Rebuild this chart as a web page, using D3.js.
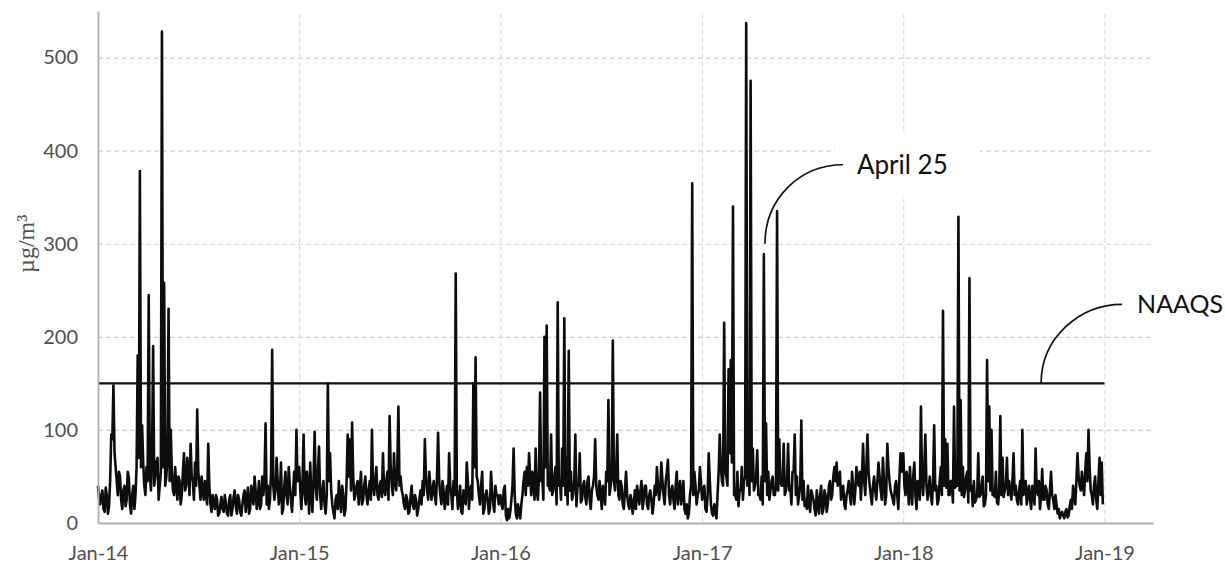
<!DOCTYPE html>
<html>
<head>
<meta charset="utf-8">
<script src="https://cdn.jsdelivr.net/npm/d3@7"></script>
<style>
  html, body { margin: 0; padding: 0; background: #fff; }
  svg { display: block; }
</style>
</head>
<body>
<svg id="chart" width="1225" height="564"></svg>
<script>
// ---------------- DATA (µg/m³) ----------------
// Each year: readings every 4 days from Jan 1 (pmYYYY) and the readings in between (pmYYYYmid, 2 days later).
const stepDays = 4;
const years = [2014, 2015, 2016, 2017, 2018];

const pm2014 = [40,20,35,12,30,18,95,148,60,30,50,15,40,25,48,10,40,30,180,378,
  105,40,60,245,35,190,50,70,40,528,258,50,230,100,35,60,25,45,30,75,
  40,55,85,45,65,122,40,50,25,30,85,20,30,15,25,10,28,12,22,8,
  30,15,35,10,25,8,30,12,38,15,30,50,15,45,20,30,107,40,25,186,
  25,70,20,65,15,55,20,40,12,55,100];
const pm2014mid = [25,30,15,38,10,45,90,75,45,55,25,35,18,55,20,30,15,60,70,60,
  65,30,45,55,70,40,65,25,55,60,40,70,45,55,30,40,50,20,55,35,
  70,30,50,25,40,55,25,35,45,20,40,12,22,30,8,20,15,30,10,25,
  8,28,18,30,12,20,35,25,10,40,20,35,25,15,50,45,20,15,55,40,
  35,45,30,10,40,30,60,25,35,30,45];

const pm2015 = [60,15,95,20,40,65,12,98,25,82,15,45,10,150,75,20,5,30,45,12,
  30,15,95,90,108,25,40,20,55,25,50,20,45,100,30,60,25,45,75,30,
  55,115,40,75,35,125,50,30,15,25,12,40,15,25,15,35,45,90,35,55,
  25,45,20,97,30,45,15,40,75,30,45,268,15,40,10,30,65,15,40,150,
  178,45,20,55,15,35,10,55,20,40,30];
const pm2015mid = [35,45,30,55,10,30,45,40,55,30,35,20,30,45,35,12,25,15,25,40,
  8,45,50,35,50,30,45,35,20,40,30,35,25,40,45,30,40,28,35,45,
  25,60,30,45,60,40,35,20,30,10,28,20,30,8,25,20,30,50,25,40,
  35,30,50,45,20,35,25,20,40,15,30,35,25,12,35,20,45,35,25,60,
  50,30,40,10,30,25,15,35,12,30,20];

const pm2016 = [30,15,40,3,5,25,80,10,20,5,30,55,60,75,30,45,80,25,140,50,
  200,212,40,95,35,60,237,45,80,220,70,185,55,30,95,40,75,25,45,20,
  50,15,40,90,30,45,15,35,55,132,40,196,35,95,25,40,15,55,20,30,
  10,35,40,20,45,25,40,15,35,10,40,60,25,65,30,45,68,20,40,15,
  55,35,20,45,10,5,30,365,55,20,35];
const pm2016mid = [20,35,8,15,12,40,30,5,12,20,45,30,40,50,55,25,35,50,45,25,
  60,40,35,30,50,20,40,25,40,30,20,35,25,45,18,40,22,40,28,45,
  25,35,50,40,25,30,40,20,45,30,50,45,55,30,45,20,35,30,15,25,
  20,15,30,35,15,40,20,30,25,20,30,40,35,45,20,55,30,35,25,40,
  20,45,30,15,20,10,40,30,40,30,60];

const pm2017 = [25,40,12,75,20,8,15,30,95,45,215,50,165,175,340,30,55,35,60,45,
  537,70,475,80,40,78,30,50,289,107,55,35,50,30,335,90,40,85,35,85,
  40,55,95,50,30,110,45,25,40,12,30,15,35,10,40,15,30,20,45,30,
  60,65,45,25,40,15,35,30,55,20,60,40,25,85,30,95,40,20,50,25,
  65,35,70,20,85,45,30,20,45,15,75];
const pm2017mid = [35,15,30,45,10,20,5,55,60,40,55,40,75,65,30,25,18,35,25,50,
  40,30,45,35,50,30,25,20,45,30,25,45,30,40,35,45,40,30,45,35,
  20,55,30,20,40,25,18,15,20,35,25,8,20,30,10,35,12,40,25,50,
  45,40,55,35,20,30,45,20,40,35,45,55,50,45,60,55,30,40,35,45,
  50,25,45,30,60,35,25,40,30,50,55];

const pm2018 = [75,30,45,60,20,65,15,40,125,30,95,25,50,20,105,40,25,60,228,90,
  85,30,45,125,40,329,132,60,35,55,263,40,45,25,75,30,50,20,175,125,
  100,30,55,20,115,70,35,70,45,25,75,40,20,45,100,35,20,40,15,35,
  80,30,15,58,25,35,15,55,25,30,10,5,12,5,15,8,25,40,20,75,
  40,55,30,75,100,35,20,50,15,70,65];
const pm2018mid = [40,55,20,35,50,30,45,25,45,60,40,35,30,45,35,20,45,30,40,38,
  30,45,22,38,40,35,30,28,50,22,35,18,22,30,28,40,18,30,45,35,
  30,28,22,35,30,28,40,30,35,45,30,25,35,20,30,45,30,25,40,20,
  35,45,30,25,40,20,35,30,15,20,15,10,8,12,6,18,15,30,45,50,
  35,40,55,45,60,30,40,25,45,30,20];

const seriesByYear = [[pm2014, pm2014mid], [pm2015, pm2015mid], [pm2016, pm2016mid], [pm2017, pm2017mid], [pm2018, pm2018mid]];

const xTickLabels = ["Jan-14", "Jan-15", "Jan-16", "Jan-17", "Jan-18", "Jan-19"];
const xTickYears = [2014, 2015, 2016, 2017, 2018, 2019];
const yTicks = [0, 100, 200, 300, 400, 500];
const yGrid = [100, 200, 300, 400, 500];
const naaqsValue = 150;
const yLabel = "µg/m³";
const aprilLabel = "April 25";
const naaqsLabel = "NAAQS";
const aprilDate = new Date(2017, 3, 25);
const aprilAnchorValue = 300;
const naaqsAnchorDate = new Date(2018, 8, 8);

// ---------------- LAYOUT ----------------
const W = 1225, H = 564;
const margin = { top: 11, right: 72, bottom: 41, left: 98 };
const plotW = W - margin.left - margin.right;
const plotH = H - margin.top - margin.bottom;

const data = [];
seriesByYear.forEach(([main, mid], k) => {
  const start = new Date(years[k], 0, 1);
  main.forEach((v, i) => {
    data.push({ date: d3.timeDay.offset(start, i * stepDays), value: v });
    if (i < mid.length) data.push({ date: d3.timeDay.offset(start, i * stepDays + stepDays / 2), value: mid[i] });
  });
});

const x = d3.scaleTime()
  .domain([new Date(2014, 0, 1), new Date(2019, 2, 30)])
  .range([0, plotW]);
const y = d3.scaleLinear().domain([0, 550]).range([plotH, 0]);

const svg = d3.select("#chart");
const g = svg.append("g").attr("transform", `translate(${margin.left},${margin.top})`);

const tickDates = xTickYears.map(yr => new Date(yr, 0, 1));

// horizontal gridlines
g.append("g")
  .call(d3.axisLeft(y).tickValues(yGrid).tickSize(-plotW).tickFormat(""))
  .call(s => s.select(".domain").remove())
  .call(s => s.selectAll("line").attr("stroke", "#d0d0d0").attr("stroke-width", 1.2).attr("stroke-dasharray", "5,3"));

// vertical gridlines
g.append("g")
  .attr("transform", `translate(0,${plotH})`)
  .call(d3.axisBottom(x).tickValues(tickDates.slice(1)).tickSize(-plotH).tickFormat(""))
  .call(s => s.select(".domain").remove())
  .call(s => s.selectAll("line").attr("stroke", "#d6d6d6").attr("stroke-width", 1).attr("stroke-dasharray", "5,3"));

// white box behind the "April 25" label (hides gridlines like the reference)
const aX = x(aprilDate), aY = y(aprilAnchorValue);
const nX = x(naaqsAnchorDate), nY = y(naaqsValue);
g.append("rect").attr("x", aX + 70).attr("y", aY - 109).attr("width", 145).attr("height", 64).attr("fill", "#fff");

// data line
const line = d3.line().x(d => x(d.date)).y(d => y(d.value));
g.append("path")
  .datum(data)
  .attr("fill", "none")
  .attr("stroke", "#0d0d0d")
  .attr("stroke-width", 2.6)
  .attr("stroke-linejoin", "round")
  .attr("d", line);

// NAAQS line
g.append("line")
  .attr("x1", x(tickDates[0])).attr("x2", x(tickDates[5]))
  .attr("y1", y(naaqsValue)).attr("y2", y(naaqsValue))
  .attr("stroke", "#111").attr("stroke-width", 2.2);

// axes
const axisColor = "#b0b0b0";
const labelColor = "#505050";
const tickFont = "Lato, 'Open Sans', sans-serif";
const yAxis = g.append("g")
  .call(d3.axisLeft(y).tickValues(yTicks).tickSize(0).tickSizeOuter(0).tickPadding(20));
yAxis.select(".domain").attr("stroke", axisColor).attr("stroke-width", 1.8);
yAxis.selectAll("text").attr("font-family", tickFont).attr("font-size", 20).attr("fill", labelColor);

const xAxis = g.append("g")
  .attr("transform", `translate(0,${plotH})`)
  .call(d3.axisBottom(x).tickValues(tickDates).tickFormat((d, i) => xTickLabels[i]).tickSize(0).tickSizeOuter(0).tickPadding(23));
xAxis.select(".domain").attr("stroke", axisColor).attr("stroke-width", 1.8);
xAxis.selectAll("text").attr("font-family", tickFont).attr("font-size", 20).attr("fill", labelColor);

// y axis title
svg.append("text")
  .attr("transform", `translate(34,${margin.top + y(300)}) rotate(-90)`)
  .attr("text-anchor", "middle")
  .attr("font-family", "'Liberation Serif', 'DejaVu Serif', serif")
  .attr("font-size", 24)
  .attr("fill", "#505050")
  .text(yLabel);

// annotations
const ann = g.append("g").attr("fill", "none").attr("stroke", "#111").attr("stroke-width", 1.7);
ann.append("path").attr("d", `M${aX},${aY} C${aX},${aY - 45} ${aX + 35},${aY - 79} ${aX + 78},${aY - 79}`);
ann.append("path").attr("d", `M${nX},${nY} C${nX},${nY - 45} ${nX + 38},${nY - 79} ${nX + 81},${nY - 79}`);

g.append("text")
  .attr("x", aX + 92).attr("y", aY - 79).attr("dy", "0.35em")
  .attr("font-family", tickFont).attr("font-size", 26).attr("fill", "#111")
  .text(aprilLabel);
g.append("text")
  .attr("x", nX + 96).attr("y", nY - 79).attr("dy", "0.35em")
  .attr("font-family", tickFont).attr("font-size", 25).attr("fill", "#111")
  .text(naaqsLabel);
</script>
</body>
</html>
